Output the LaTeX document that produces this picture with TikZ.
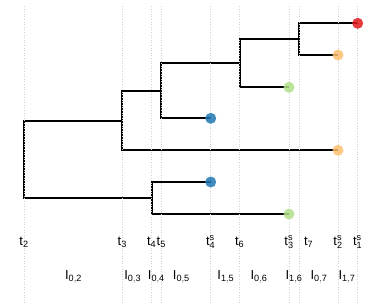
\documentclass[tikz,border=0pt]{standalone}
\usepackage{fontspec}
\setmainfont{Liberation Sans}

\newcommand{\tsub}[1]{$\mathrm{t}_{\mathrm{#1}}$}
\newcommand{\tsam}[1]{$\mathrm{t}^{\mathrm{s}}_{\mathrm{#1}}$}
\newcommand{\isub}[1]{$\mathrm{I}_{\mathrm{#1}}$}

\begin{document}
\begin{tikzpicture}[x=1pt,y=-1pt,
  branch/.style={line width=2.1pt, line join=miter},
  gridline/.style={gray!35, dotted, line width=0.6pt},
  tip/.style={circle, inner sep=0pt, minimum size=11pt, opacity=0.85},
  timelab/.style={anchor=base, inner sep=0pt, font=\fontsize{13}{15}\selectfont},
  intlab/.style={anchor=base, inner sep=0pt, font=\fontsize{13}{15}\selectfont}]
\definecolor{tipred}{HTML}{E31A1C}
\definecolor{tiporange}{HTML}{FDBF6F}
\definecolor{tipgreen}{HTML}{B2DF8A}
\definecolor{tipblue}{HTML}{1F78B4}
\useasboundingbox (0,0) rectangle (379,304);

% ======================= Knoten =======================
\coordinate (n2) at (24,159.4);
\coordinate (n3) at (122.3,120.7);
\coordinate (n4) at (151.7,198);
\coordinate (n5) at (161.3,90.7);
\coordinate (n6) at (239.7,63);
\coordinate (n7) at (299,39);

% Blaetter
\coordinate (s1) at (357.7,23.3);
\coordinate (s2a) at (338,55);
\coordinate (s3a) at (289,87.3);
\coordinate (s4a) at (210.7,118.3);
\coordinate (s2b) at (338,150.3);
\coordinate (s4b) at (210.7,182);
\coordinate (s3b) at (289,214);

% ======================= Baum =======================
\draw[branch] (n2) |- (n3);
\draw[branch] (n2) |- (n4);
\draw[branch] (n3) |- (n5);
\draw[branch] (n3) |- (s2b);
\draw[branch] (n4) |- (s4b);
\draw[branch] (n4) |- (s3b);
\draw[branch] (n5) |- (n6);
\draw[branch] (n5) |- (s4a);
\draw[branch] (n6) |- (n7);
\draw[branch] (n6) |- (s3a);
\draw[branch] (n7) |- (s1);
\draw[branch] (n7) |- (s2a);

% Zeitlinien
\foreach \x in {24,122.3,151.7,161.3,210.7,239.7,289,299,338,357.7}
  \draw[gridline] (\x,6) -- (\x,304);

% Spitzen
\node[tip, fill=tipred] (c1) at (s1) {};
\node[tip, fill=tiporange] (c2a) at (s2a) {};
\node[tip, fill=tiporange] (c2b) at (s2b) {};
\node[tip, fill=tipgreen] (c3a) at (s3a) {};
\node[tip, fill=tipgreen] (c3b) at (s3b) {};
\node[tip, fill=tipblue] (c4a) at (s4a) {};
\node[tip, fill=tipblue] (c4b) at (s4b) {};

% ======================= Beschriftung =======================
\node[timelab] (t2) at (24,245) {\tsub{2}};
\node[timelab] (t3) at (122.3,245) {\tsub{3}};
\node[timelab] (t4) at (151.7,245) {\tsub{4}};
\node[timelab] (t5) at (161.3,245) {\tsub{5}};
\node[timelab] (ts4) at (210.7,245) {\tsam{4}};
\node[timelab] (t6) at (239.7,245) {\tsub{6}};
\node[timelab] (ts3) at (289,245) {\tsam{3}};
\node[timelab] (t7) at (308.7,245) {\tsub{7}};
\node[timelab] (ts2) at (338,245) {\tsam{2}};
\node[timelab] (ts1) at (357.7,245) {\tsam{1}};

\node[intlab] (i02) at (73.5,279) {\isub{0,2}};
\node[intlab] (i03) at (132.7,279) {\isub{0,3}};
\node[intlab] (i04) at (156.3,279) {\isub{0,4}};
\node[intlab] (i05) at (181.3,279) {\isub{0,5}};
\node[intlab] (i15) at (225.8,279) {\isub{1,5}};
\node[intlab] (i06) at (259,279) {\isub{0,6}};
\node[intlab] (i16) at (294,279) {\isub{1,6}};
\node[intlab] (i07) at (319,279) {\isub{0,7}};
\node[intlab] (i17) at (347,279) {\isub{1,7}};
\end{tikzpicture}
\end{document}
